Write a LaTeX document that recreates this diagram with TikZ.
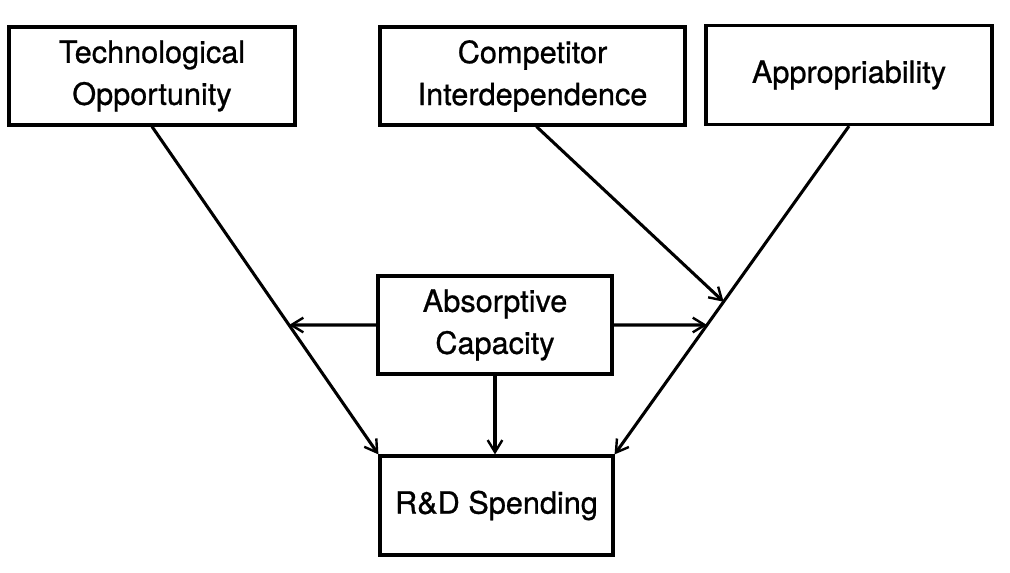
\documentclass[tikz,border=0pt]{standalone}
\usepackage{fontspec}
\setmainfont{TeX Gyre Heros}
\newfontfamily\lblfont[FakeBold=0.8]{TeX Gyre Heros}
\usetikzlibrary{arrows.meta,calc}
\begin{document}
\begin{tikzpicture}[x=0.75pt,y=-0.75pt,
  box/.style={draw,line width=2.4pt,inner sep=0pt,align=center,
    font=\lblfont\fontsize{23}{31.5}\selectfont},
  conn/.style={line width=2.3pt},
  arr/.style={conn,-{Straight Barb[length=9pt,width=11pt,line width=1.8pt]}}]
\useasboundingbox (0,0) rectangle (1010,573);
\node[box,minimum width=286*0.75pt,minimum height=98*0.75pt] (tech) at (152,76) {Technological\\Opportunity};
\node[box,minimum width=305*0.75pt,minimum height=98*0.75pt] (comp) at (532.5,76) {Competitor\\Interdependence};
\node[box,minimum width=286*0.75pt,minimum height=99*0.75pt] (app) at (849,75) {Appropriability};
\node[box,minimum width=234*0.75pt,minimum height=98*0.75pt] (abs) at (495,325) {Absorptive\\Capacity};
\node[box,minimum width=233*0.75pt,minimum height=99*0.75pt] (rd) at (496.5,505.5) {R\&D Spending};
\draw[arr] (tech.south) -- (rd.north west);
\draw[arr] (app.south) -- (rd.north east);
\coordinate (cm) at ($(app.south)!0.535!(rd.north east)$);
\draw[arr] (comp.south) ++(4,0) -- (cm);
\coordinate (pl) at (intersection of tech.south--rd.north west and abs.west--abs.east);
\coordinate (pr) at (intersection of app.south--rd.north east and abs.west--abs.east);
\draw[arr] (abs.west) -- (pl);
\draw[arr] (abs.east) -- (pr);
\draw[arr] (abs.south) -- (abs.south |- rd.north);
\end{tikzpicture}
\end{document}
